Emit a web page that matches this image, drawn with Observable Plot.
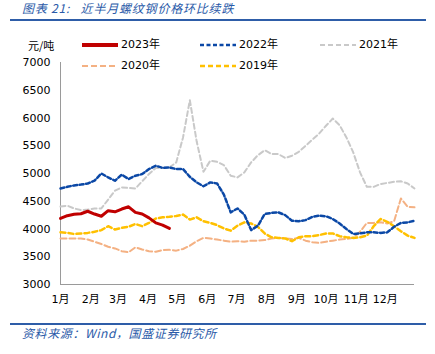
<!DOCTYPE html>
<html><head><meta charset="utf-8">
<script src="https://cdn.jsdelivr.net/npm/d3@7"></script>
<script src="https://cdn.jsdelivr.net/npm/@observablehq/plot@0.6"></script>
<style>
body{margin:0;background:#fff;}
#wrap{position:relative;width:435px;height:354px;overflow:hidden;font-family:"DejaVu Sans","Noto Sans CJK SC",sans-serif;color:#000;}
#chart{position:absolute;left:0;top:0;}
.title{position:absolute;left:22px;top:0px;font-size:12px;line-height:16px;font-style:italic;color:#2A5AA8;font-family:"Noto Sans CJK SC",sans-serif;white-space:nowrap;letter-spacing:0.8px;}
.caption{position:absolute;left:22px;top:325px;font-size:12px;line-height:16px;font-style:italic;color:#2A5AA8;font-family:"Noto Sans CJK SC",sans-serif;white-space:nowrap;letter-spacing:0.6px;}
.hr{position:absolute;left:10px;width:416px;height:2px;background:#2E5DA8;}
.unit{position:absolute;left:28px;top:37px;font-size:11px;line-height:16px;font-family:"Noto Sans CJK SC",sans-serif;}
.leg{position:absolute;font-size:11px;line-height:16px;white-space:nowrap;display:flex;align-items:center;}
.leg svg{margin-right:3px;}
</style></head>
<body>
<div id="wrap">
  <div class="title">图表 21:&nbsp;&nbsp; 近半月螺纹钢价格环比续跌</div>
  <div class="hr" style="top:19px"></div>
  <div class="unit">元/吨</div>
  <div id="legend"></div>
  <div id="chart"></div>
  <div class="hr" style="top:323px"></div>
  <div class="caption">资料来源：Wind，国盛证券研究所</div>
</div>
<script>
// Weekly prices (元/吨), starting Jan 1, one value per week
const v2023 = [4190,4240,4265,4275,4320,4270,4230,4330,4310,4360,4400,4300,4270,4200,4110,4070,4010];
const v2022 = [4730,4760,4785,4800,4820,4870,5000,4930,4870,4980,
               4900,4960,4990,5080,5140,5100,5110,5080,5080,4940,
               4840,4770,4840,4820,4620,4300,4370,4260,3980,4060,
               4270,4290,4300,4250,4150,4140,4160,4220,4240,4230,
               4180,4100,4000,3910,3920,3940,3940,3930,3940,4040,
               4110,4120,4150];
const v2021 = [4405,4420,4370,4340,4350,4370,4370,4530,4690,4750,
               4740,4730,4860,4990,5100,5100,5110,5200,5650,6320,
               5580,5030,5230,5210,5150,4960,4930,5020,5200,5330,
               5420,5350,5350,5280,5320,5390,5500,5610,5720,5860,
               5990,5870,5650,5380,5020,4760,4760,4810,4830,4850,
               4860,4820,4730];
const v2020 = [3830,3830,3830,3830,3810,3770,3730,3680,3650,3600,
               3580,3670,3630,3600,3590,3620,3625,3610,3640,3700,
               3780,3840,3830,3810,3790,3770,3780,3770,3790,3790,
               3800,3830,3840,3830,3820,3840,3790,3760,3750,3770,
               3790,3810,3820,3840,3950,4110,4110,4120,4100,4140,
               4550,4400,4390];
const v2019 = [3940,3930,3910,3920,3930,3950,3980,4050,3990,4020,
               4040,4090,4050,4110,4190,4210,4220,4235,4260,4170,
               4210,4140,4110,4070,4010,3970,4060,4120,4100,4040,
               3920,3850,3840,3830,3780,3850,3870,3870,3890,3920,
               3920,3870,3850,3840,3850,3880,4050,4180,4130,4050,
               3960,3880,3840];
const yTicks = [3000,3500,4000,4500,5000,5500,6000,6500,7000];
const monthLabels = ["1月","2月","3月","4月","5月","6月","7月","8月","9月","10月","11月","12月"];
const seriesNames = ["2023年","2022年","2021年","2020年","2019年"];

const start = Date.UTC(2023,0,1);
const toRows = (vals) => vals.map((v,i) => ({date: new Date(start + i*7*864e5), value: v}));
const monthStarts = d3.range(12).map(m => new Date(Date.UTC(2023,m,1)));

const styles = {
  "2023年": {stroke:"#C00000", strokeWidth:3, dash:null, vals:v2023},
  "2022年": {stroke:"#0B48A6", strokeWidth:2.5, dash:"4,2.5", vals:v2022},
  "2021年": {stroke:"#C9C9C9", strokeWidth:2, dash:"5,3", vals:v2021},
  "2020年": {stroke:"#F4B183", strokeWidth:2, dash:"6,3", vals:v2020},
  "2019年": {stroke:"#FFC000", strokeWidth:2.5, dash:"5,3", vals:v2019}
};
const drawOrder = ["2021年","2020年","2019年","2022年","2023年"];

const chart = Plot.plot({
  width:435, height:310,
  marginLeft:60, marginRight:21, marginTop:62, marginBottom:26,
  style:{fontSize:"11px", fontFamily:'"DejaVu Sans","Noto Sans CJK SC",sans-serif', color:"#000", background:"transparent"},
  x:{type:"utc", domain:[new Date(start), new Date(Date.UTC(2023,11,31))]},
  y:{domain:[3000,7000]},
  marks:[
    Plot.axisY({ticks:yTicks, tickSize:0, tickPadding:10, label:null, tickFormat:d=>String(d)}),
    Plot.axisX({ticks:monthStarts, tickSize:0, tickPadding:11, label:null, tickFormat:d=>monthLabels[d.getUTCMonth()]}),
    Plot.ruleY([3000], {stroke:"#9a9a9a", strokeWidth:1}),
    Plot.ruleX([new Date(start)], {stroke:"#9a9a9a", strokeWidth:1}),
    ...drawOrder.map(name => {
      const s = styles[name];
      return Plot.line(toRows(s.vals), {x:"date", y:"value", stroke:s.stroke, strokeWidth:s.strokeWidth, strokeDasharray:s.dash || undefined});
    })
  ]
});
document.getElementById("chart").appendChild(chart);

// legend
const legPos = [
  ["2023年", 82, 37], ["2022年", 200, 37], ["2021年", 320, 37],
  ["2020年", 82, 58], ["2019年", 200, 58]
];
const legend = document.getElementById("legend");
legPos.forEach(([name, x, y]) => {
  const s = styles[name];
  const div = document.createElement("div");
  div.className = "leg";
  div.style.left = x + "px";
  div.style.top = y + "px";
  div.innerHTML = `<svg width="36" height="6"><line x1="0" y1="3" x2="36" y2="3" stroke="${s.stroke}" stroke-width="${s.strokeWidth + (name==="2023年"?0.8:0)}" ${s.dash?`stroke-dasharray="${s.dash}"`:""}/></svg><span>${name}</span>`;
  legend.appendChild(div);
});
</script>
</body></html>
